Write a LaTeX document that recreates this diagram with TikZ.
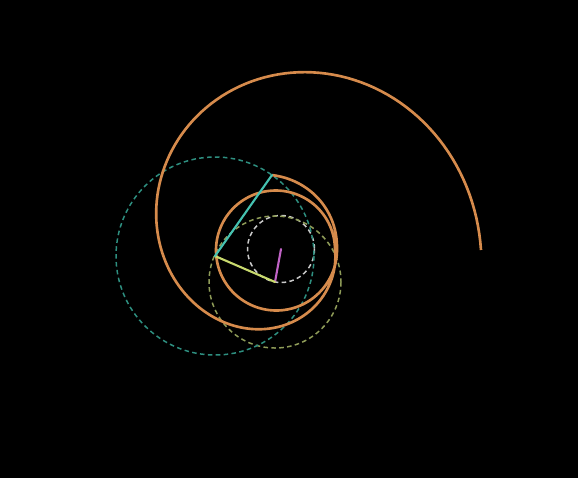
\documentclass[tikz,border=0pt]{standalone}
\usepackage{tikz}
\usetikzlibrary{positioning}
\definecolor{TraceOrange}{HTML}{D68B4C}
\definecolor{VecTeal}{HTML}{45C2B1}
\definecolor{OrbTeal}{HTML}{2E8F80}
\definecolor{VecLime}{HTML}{C9DA6E}
\definecolor{OrbLime}{HTML}{8F9C58}
\definecolor{VecPink}{HTML}{C063C6}
\definecolor{OrbWhite}{HTML}{C9C9C9}

\begin{document}
\begin{tikzpicture}[x=0.02cm,y=-0.02cm,
  orbit/.style={line width=0.85pt,dash pattern=on 2.6pt off 1.9pt},
  vec/.style={line width=1.2pt,line cap=round},
  trace/.style={draw=TraceOrange,line width=1.5pt,line join=round},
  declare function={
    rtip(\t)=61+14*(-1*(\t)/93)*sqrt(-1*(\t)/93);
    rmid(\t)=61-2*(\t)/360;
    sgr(\u)=\u-0.085*sin(180*\u)-0.09*sin(360*\u);
    rout(\t)=59+146*sgr((\t-360)/360);
    cxo(\t)=276+5*sin((\t-360)/2);
    cyo(\t)=250+3*sin(\t-360);
  }
]
\fill[black] (0,0) rectangle (578,478);
\coordinate (o) at (281,249);
\coordinate (p1) at (275,282);
\coordinate (p2) at (215,256);
\coordinate (tip) at (272,175);
% circles of the rotating vectors
\draw[orbit,draw=OrbWhite] (o) circle[radius=33.5];
\draw[orbit,draw=OrbLime] (p1) circle[radius=66];
\draw[orbit,draw=OrbTeal] (p2) circle[radius=99];
% traced path, centre (276,250)
\draw[trace] plot[domain=-93:0,samples=40] ({276+rtip(\x)*cos(\x)},{250+rtip(\x)*sin(\x)})
  -- plot[domain=0:360,samples=120] ({276+rmid(\x)*cos(\x)},{250+rmid(\x)*sin(\x)})
  -- plot[domain=360:720,samples=160] ({cxo(\x)+rout(\x)*cos(\x)},{cyo(\x)+rout(\x)*sin(\x)});
% vectors
\draw[vec,VecPink] (o) -- (p1);
\draw[vec,VecLime] (p1) -- (p2);
\draw[vec,VecTeal] (p2) -- (tip);
\end{tikzpicture}
\end{document}
